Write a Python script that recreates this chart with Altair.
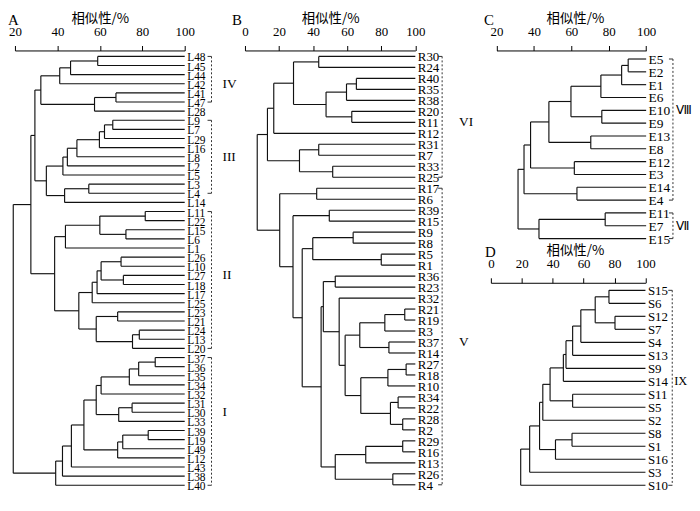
import altair as alt
import pandas as pd

# ---------------- data: panel A ----------------
A_leaves = ["L48", "L45", "L44", "L42", "L41", "L47", "L28", "L9", "L7", "L29", "L16", "L8",
            "L2", "L5", "L3", "L4", "L14", "L11", "L22", "L15", "L6", "L1", "L26", "L10",
            "L27", "L18", "L17", "L25", "L23", "L21", "L24", "L13", "L20", "L37", "L36", "L35",
            "L34", "L32", "L31", "L30", "L33", "L39", "L19", "L49", "L12", "L43", "L38", "L40"]
A_left = ["L48", "#0", "#1", "L41", "#3", "#2", "L9", "#6", "#7", "#8", "#9", "#10", "L3", "#12",
          "#11", "#5", "L11", "L15", "#16", "#18", "L26", "L27", "#20", "#22", "#23", "L23", "L24",
          "#26", "#25", "#24", "#19", "#15", "L37", "#32", "#33", "#34", "L31", "#36", "#35", "L39",
          "#39", "#40", "#38", "#42", "#43", "#44", "#31"]
A_right = ["L45", "L44", "L42", "L47", "L28", "#4", "L7", "L29", "L16", "L8", "L2", "L5", "L4", "L14",
           "#13", "#14", "L22", "L6", "#17", "L1", "L10", "L18", "#21", "L17", "L25", "L21", "L13",
           "L20", "#27", "#28", "#29", "#30", "L36", "L35", "L34", "L32", "L30", "L33", "#37", "L19",
           "L49", "L12", "#41", "L43", "L38", "L40", "#45"]
A_sim = [59.0, 46.2, 41.1, 67.6, 57.5, 32.2, 66.1, 62.2, 59.8, 49.2, 44.7, 42.6, 54.8, 43.4,
         34.8, 29.4, 81.4, 72.3, 60.0, 43.8, 70.0, 71.1, 60.6, 58.7, 56.4, 68.4, 78.6,
         75.4, 58.3, 50.1, 38.7, 27.5, 86.1, 78.3, 73.9, 60.6, 75.2, 68.9, 58.3, 82.8,
         70.8, 68.4, 52.5, 46.6, 42.4, 39.2, 19.2]
A_groups = ["IV", "III", "II", "I"]
A_group_first = ["L48", "L9", "L11", "L37"]
A_group_last = ["L47", "L4", "L20", "L40"]
A_group_anchor = ["L42", "L8", "L27", "L30"]
A_ticks = [20, 40, 60, 80, 100]

# ---------------- data: panel B ----------------
B_leaves = ["R30", "R24", "R40", "R35", "R38", "R20", "R11", "R12", "R31", "R7", "R33", "R25",
            "R17", "R6", "R39", "R15", "R9", "R8", "R5", "R1", "R36", "R23", "R32", "R21",
            "R19", "R3", "R37", "R14", "R27", "R18", "R10", "R34", "R22", "R28", "R2", "R29",
            "R16", "R13", "R26", "R4"]
B_left = ["R30", "R40", "#1", "R20", "#2", "#0", "#5", "R31", "R33", "#7", "#6", "R17", "R39",
          "R9", "R5", "#13", "R36", "R21", "#17", "R37", "#18", "R27", "#21", "R34", "R28", "#23",
          "#22", "#20", "R32", "#16", "R29", "#30", "R26", "#31", "#29", "#15", "#12", "#11", "#10"]
B_right = ["R24", "R35", "R38", "R11", "#3", "#4", "R12", "R7", "R25", "#8", "#9", "R6", "R15",
           "R8", "R1", "#14", "R23", "R19", "R3", "R14", "#19", "R18", "R10", "R22", "R2", "#24",
           "#25", "#26", "#27", "#28", "R16", "R13", "R4", "#32", "#33", "#34", "#35", "#36", "#37"]
B_sim = [43.3, 65.4, 59.6, 62.7, 47.6, 28.5, 16.9, 43.3, 51.5, 32.0, 13.2, 42.1, 49.5,
         63.5, 80.0, 39.8, 53.0, 93.8, 82.1, 84.5, 67.4, 94.6, 83.9, 89.9, 92.6, 85.4,
         68.0, 58.8, 55.3, 46.0, 92.6, 70.9, 86.8, 53.0, 44.7, 33.6, 28.2, 20.4, 7.2]
B_groups = ["VI", "V"]
B_group_first = ["R30", "R17"]
B_group_last = ["R25", "R4"]
B_group_anchor = ["R11", "R37"]
B_ticks = [0, 20, 40, 60, 80, 100]

# ---------------- data: panel C ----------------
C_leaves = ["E5", "E2", "E1", "E6", "E10", "E9", "E13", "E8", "E12", "E3", "E14", "E4",
            "E11", "E7", "E15"]
C_left = ["E5", "#0", "#1", "E10", "#2", "E13", "#4", "E12", "#6", "E14", "#8", "E11", "#11", "#10"]
C_right = ["E2", "E1", "E6", "E9", "#3", "E8", "#5", "E3", "#7", "E4", "#9", "E7", "E15", "#12"]
C_sim = [90.4, 86.9, 75.8, 76.3, 59.8, 70.4, 48.0, 61.6, 38.2, 63.0, 34.7, 78.1, 42.7, 31.5]
C_groups = ["Ⅷ", "Ⅶ"]
C_group_first = ["E5", "E11"]
C_group_last = ["E4", "E15"]
C_group_anchor = ["E10", "E7"]
C_ticks = [20, 40, 60, 80, 100]

# ---------------- data: panel D ----------------
D_leaves = ["S15", "S6", "S12", "S7", "S4", "S13", "S9", "S14", "S11", "S5", "S2", "S8",
            "S1", "S16", "S3", "S10"]
D_left = ["S15", "S12", "#0", "#2", "#3", "#4", "#5", "S11", "#6", "#8", "S8", "#10", "#9", "#12", "#13"]
D_right = ["S6", "S7", "#1", "S4", "S13", "S9", "S14", "S5", "#7", "S2", "S1", "S16", "#11", "S3", "S10"]
D_sim = [76.4, 80.3, 67.5, 58.2, 52.9, 48.6, 46.9, 52.9, 38.3, 33.6, 52.5, 41.8, 31.5, 25.1, 19.3]
D_groups = ["IX"]
D_group_first = ["S15"]
D_group_last = ["S10"]
D_group_anchor = ["S14"]
D_ticks = [0, 20, 40, 60, 80, 100]

AXIS_TITLE = "相似性/%"
SERIF = "Liberation Serif"
CJK = "Noto Sans CJK SC"
INK = "#111111"

TOP = 50.0      # expected absolute y of the top axis line of panels A, B, C
BOTTOM = 494.0  # keep the whole page inside the 511 px window


def segments(leaves, left, right, sims):
    ypos = {n: float(i) for i, n in enumerate(leaves)}
    xpos = {n: 100.0 for n in leaves}
    rows = []
    for k, (a, b, s) in enumerate(zip(left, right, sims)):
        ya, yb = ypos[a], ypos[b]
        rows.append(dict(x=s, x2=s, y=ya, y2=yb))
        rows.append(dict(x=s, x2=xpos[a], y=ya, y2=ya))
        rows.append(dict(x=s, x2=xpos[b], y=yb, y2=yb))
        ypos["#%d" % k] = (ya + yb) / 2.0
        xpos["#%d" % k] = s
    return pd.DataFrame(rows)


def panel(letter, leaves, left, right, sims, groups, gfirst, glast, ganchor, ticks,
          xmin, width, xrange, top_abs, first_abs, last_abs, height,
          label_size, label_dy, roman_dx, roman_size, letter_x, title_x=None, bracket_dx=27):
    n = len(leaves)
    step = (last_abs - first_abs) / (n - 1)
    lo = -(first_abs - top_abs) / step
    hi = lo + height / step
    idx = {name: i for i, name in enumerate(leaves)}

    xs_kw = {"range": xrange} if xrange else {}
    xscale = alt.Scale(domain=[xmin, 100], nice=False, zero=False, **xs_kw)
    yscale = alt.Scale(domain=[lo, hi], nice=False, zero=False, reverse=True)
    ax_kw = {"titleX": title_x} if title_x is not None else {}
    axis = alt.Axis(orient="top", values=ticks, title=AXIS_TITLE, titleFont=CJK,
                    titleFontSize=13.5, titleFontWeight="normal", titleColor="black",
                    titlePadding=0, labelFont=SERIF, labelFontSize=13, labelColor="black",
                    labelPadding=7, labelFlush=False, tickSize=5, tickColor="black",
                    tickWidth=1, domainColor="black", domainWidth=1, grid=False, format="d",
                    **ax_kw)
    X = alt.X("x:Q", scale=xscale, axis=axis)
    Y = alt.Y("y:Q", scale=yscale, axis=None)

    seg = segments(leaves, left, right, sims)
    tree = alt.Chart(seg).mark_rule(color=INK, strokeWidth=1.15).encode(
        x=X, x2="x2:Q", y=Y, y2="y2:Q")

    lab = pd.DataFrame({"name": leaves, "x": [100] * n, "y": list(range(n))})
    labels = alt.Chart(lab).mark_text(align="left", baseline="middle", dx=2.5, dy=label_dy,
                                      font=SERIF, fontSize=label_size, color="black").encode(
        x=X, y=Y, text="name:N")

    br = pd.DataFrame({"x": [100] * len(groups), "y": [idx[g] for g in gfirst],
                       "y2": [idx[g] for g in glast]})
    brackets = alt.Chart(br).mark_rule(color="#333333", strokeWidth=1, strokeDash=[2, 2],
                                       xOffset=bracket_dx).encode(x=X, y=Y, y2="y2:Q")

    ends = pd.DataFrame({"x": [100] * (2 * len(groups)), "x2": [100] * (2 * len(groups)),
                         "y": [idx[g] for g in gfirst] + [idx[g] for g in glast]})
    endticks = alt.Chart(ends).mark_rule(color="#333333", strokeWidth=1,
                                         xOffset=bracket_dx - 4, x2Offset=bracket_dx).encode(
        x=X, x2="x2:Q", y=Y)

    rom = pd.DataFrame({"g": groups, "x": [100] * len(groups),
                        "y": [idx[a] for a in ganchor]})
    romans = alt.Chart(rom).mark_text(align="left", baseline="middle", dx=roman_dx,
                                      font=SERIF, fontSize=roman_size, color="black").encode(
        x=X, y=Y, text="g:N")

    let = pd.DataFrame({"t": [letter]})
    letter_mark = alt.Chart(let).mark_text(align="left", baseline="middle", font=SERIF,
                                           fontSize=15, color="black").encode(
        x=alt.value(letter_x), y=alt.value(-31), text="t:N")

    return alt.layer(tree, labels, brackets, endticks, romans, letter_mark).properties(
        width=width, height=height)


# layout (absolute pixel targets)
A_height = BOTTOM - TOP
pA = panel("A", A_leaves, A_left, A_right, A_sim, A_groups, A_group_first, A_group_last,
           A_group_anchor, A_ticks, 20, 171, None, TOP, TOP + 6, 488, A_height,
           11.5, 2, 38, 13.5, -7)
pB = panel("B", B_leaves, B_left, B_right, B_sim, B_groups, B_group_first, B_group_last,
           B_group_anchor, B_ticks, 0, 187, [0, 171.6], TOP, TOP + 6, 487.5, A_height,
           13, 1, 44, 13.5, -13)
C_bottom = 246.0
pC = panel("C", C_leaves, C_left, C_right, C_sim, C_groups, C_group_first, C_group_last,
           C_group_anchor, C_ticks, 20, 156.4, [5.7, 156.4], TOP, TOP + 8.6, 239.5,
           C_bottom - TOP, 13.5, 1, 30, 12, -7, title_x=84.7)
D_top = 284.0
pD = panel("D", D_leaves, D_left, D_right, D_sim, D_groups, D_group_first, D_group_last,
           D_group_anchor, D_ticks, 0, 156.4, [0, 155.7], D_top, D_top + 7.6, 488,
           BOTTOM - D_top, 13, 1, 29, 12.5, -6, title_x=84.7)

col3 = alt.vconcat(pC, pD, spacing=D_top - C_bottom, bounds="flush")
chart = alt.hconcat(pA, pB, col3, spacing=60.7, bounds="flush").properties(
    padding={"top": 2, "left": 0, "right": 0, "bottom": 0}).configure_view(stroke=None)

chart.save("out.html", embed_options={"renderer": "svg", "actions": False})
